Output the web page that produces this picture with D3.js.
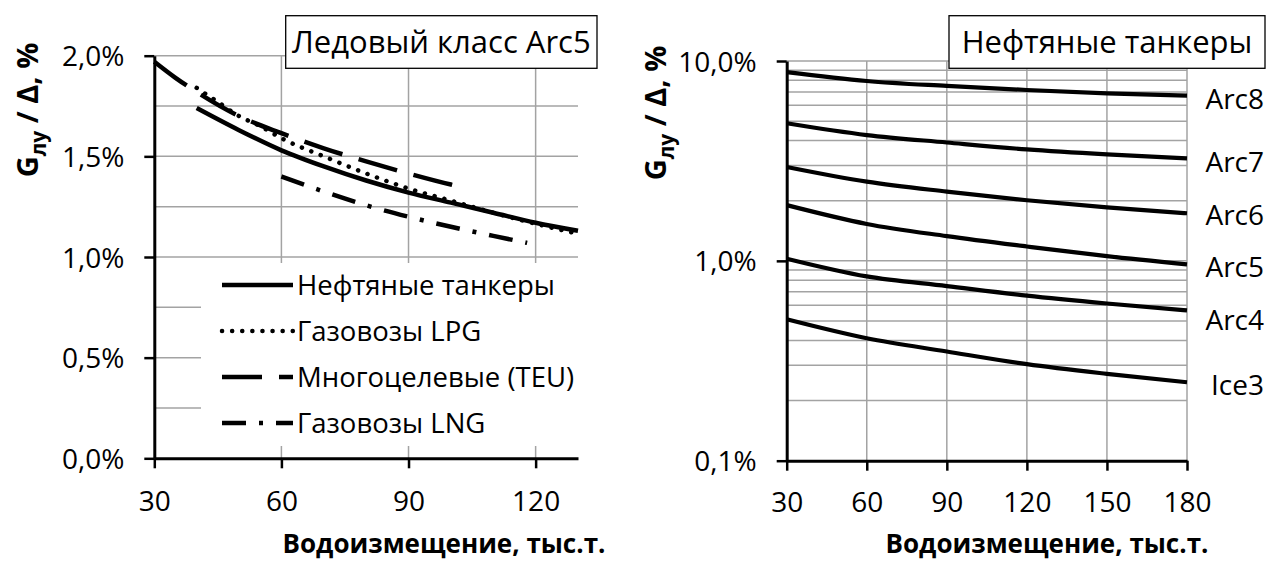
<!DOCTYPE html>
<html><head><meta charset="utf-8">
<script src="https://cdn.jsdelivr.net/npm/d3@7"></script>
<style>
body{margin:0;background:#fff}
svg{display:block}
text{font-family:"Open Sans",sans-serif;fill:#000}
</style>
</head><body>
<svg id="c" width="1267" height="561"></svg>
<script>
// ---------- data: left chart ----------
const leftTitle = "Ледовый класс Arc5";
const leftXTicks = [30, 60, 90, 120];
const leftYTicks = [0, 0.5, 1.0, 1.5, 2.0];
const leftYTickLabels = ["0,0%", "0,5%", "1,0%", "1,5%", "2,0%"];
const leftGridY = [0.25, 0.5, 0.75, 1.0, 1.25, 1.5, 1.75, 2.0];
const leftSeriesNames = ["Нефтяные танкеры", "Газовозы LPG", "Многоцелевые (TEU)", "Газовозы LNG"];
const tankerX = [40, 50, 60, 70, 80, 90, 100, 110, 120, 130];
const tankerY = [1.74, 1.63, 1.53, 1.45, 1.38, 1.32, 1.27, 1.22, 1.17, 1.13];
const lpgX = [40, 45, 50, 55, 60, 70, 80, 90, 100, 110, 120, 130];
const lpgY = [1.84, 1.77, 1.70, 1.65, 1.59, 1.50, 1.415, 1.34, 1.28, 1.22, 1.165, 1.115];
const teuX = [30, 35, 40, 50, 60, 70, 80, 90, 100, 102];
const teuY = [1.97, 1.89, 1.82, 1.70, 1.615, 1.54, 1.475, 1.415, 1.36, 1.35];
const lngX = [60, 70, 80, 90, 100, 110, 118];
const lngY = [1.40, 1.325, 1.257, 1.20, 1.15, 1.105, 1.07];

// ---------- data: right chart ----------
const rightTitle = "Нефтяные танкеры";
const rightX = [30, 60, 90, 120, 150, 180];
const rightXTicks = [30, 60, 90, 120, 150, 180];
const rightYTicks = [0.1, 1, 10];
const rightYTickLabels = ["0,1%", "1,0%", "10,0%"];
const iceClasses = ["Arc8", "Arc7", "Arc6", "Arc5", "Arc4", "Ice3"];
const arc8 = [8.80, 7.94, 7.50, 7.16, 6.89, 6.71];
const arc7 = [4.88, 4.26, 3.91, 3.61, 3.41, 3.26];
const arc6 = [2.95, 2.49, 2.22, 2.01, 1.85, 1.73];
const arc5 = [1.90, 1.53, 1.33, 1.18, 1.055, 0.96];
const arc4 = [1.025, 0.836, 0.748, 0.670, 0.612, 0.565];
const ice3 = [0.51, 0.410, 0.352, 0.304, 0.272, 0.247];

const xAxisTitle = "Водоизмещение, тыс.т.";
const yAxisMain = "G", yAxisSub = "лу", yAxisRest = " / Δ, %";

// ---------- drawing ----------
const svg = d3.select("#c");
const GRID = "#a3a3a3";
const TICK_FS = "28px";

function yTitle(x, y) {
  const t = svg.append("text")
    .attr("transform", `translate(${x},${y}) rotate(-90)`)
    .attr("text-anchor", "middle")
    .style("font-weight", "bold").style("font-size", "29px");
  t.append("tspan").text(yAxisMain);
  t.append("tspan").attr("dy", 8).style("font-size", "21px").text(yAxisSub);
  t.append("tspan").attr("dy", -8).text(yAxisRest);
}
function titleBox(x0, x1, y0, y1, txt) {
  svg.append("rect").attr("x", x0).attr("y", y0).attr("width", x1 - x0).attr("height", y1 - y0)
    .attr("fill", "#fff").attr("stroke", "#000").attr("stroke-width", 1.3);
  svg.append("text").attr("x", (x0 + x1) / 2).attr("y", (y0 + y1) / 2).attr("dy", "0.36em")
    .attr("text-anchor", "middle").style("font-size", "31px").text(txt);
}
function styleAxis(g) {
  g.select(".domain").attr("stroke", "#000").attr("stroke-width", 3);
  g.selectAll(".tick line").attr("stroke", "#000").attr("stroke-width", 2.5);
  g.selectAll(".tick text").style("font-size", TICK_FS).style("font-family", "'Open Sans',sans-serif");
}

// ===== LEFT =====
const xL = d3.scaleLinear().domain([30, 130]).range([154.3, 578]);
const yL = d3.scaleLinear().domain([0, 2]).range([458.3, 55.7]);

svg.append("g").selectAll("line").data(leftGridY).join("line")
  .attr("x1", xL(30)).attr("x2", xL(130)).attr("y1", d => yL(d)).attr("y2", d => yL(d))
  .attr("stroke", GRID).attr("stroke-width", 1.5);
svg.append("g").selectAll("line").data(leftXTicks.slice(1)).join("line")
  .attr("x1", d => xL(d)).attr("x2", d => xL(d)).attr("y1", yL(2)).attr("y2", yL(0))
  .attr("stroke", GRID).attr("stroke-width", 1.5);

titleBox(285.7, 597, 15.7, 68.3, leftTitle);

// legend background
svg.append("rect").attr("x", 201).attr("y", 263).attr("width", 400).attr("height", 183).attr("fill", "#fff");

const leftSeries = [
  {name: leftSeriesNames[0], xs: tankerX, ys: tankerY, dash: null, cap: "butt"},
  {name: leftSeriesNames[1], xs: lpgX, ys: lpgY, dash: "0.1 10", cap: "round"},
  {name: leftSeriesNames[2], xs: teuX, ys: teuY, dash: "40 17", cap: "butt"},
  {name: leftSeriesNames[3], xs: lngX, ys: lngY, dash: "24 13 4 13", cap: "butt"}
];
const lineL = d3.line().x(d => xL(d[0])).y(d => yL(d[1])).curve(d3.curveMonotoneX);
leftSeries.forEach(s => {
  svg.append("path").datum(s.xs.map((x, i) => [x, s.ys[i]]))
    .attr("d", lineL).attr("fill", "none").attr("stroke", "#000").attr("stroke-width", 4.5)
    .attr("stroke-dasharray", s.dash).attr("stroke-linecap", s.cap);
});

// legend
const legY = d3.scalePoint().domain(leftSeriesNames).range([285, 423]);
leftSeries.forEach(s => {
  const y = legY(s.name);
  svg.append("line").attr("x1", 222).attr("x2", 293).attr("y1", y).attr("y2", y)
    .attr("stroke", "#000").attr("stroke-width", 4.5)
    .attr("stroke-dasharray", s.dash).attr("stroke-linecap", s.cap);
  svg.append("text").attr("x", 297).attr("y", y).attr("dy", "0.36em").style("font-size", "27.5px").text(s.name);
});

const axLX = svg.append("g").attr("transform", `translate(0,${yL(0)})`)
  .call(d3.axisBottom(xL).tickValues(leftXTicks).tickSize(10).tickPadding(23).tickSizeOuter(0));
styleAxis(axLX);
const axLY = svg.append("g").attr("transform", `translate(${xL(30)},0)`)
  .call(d3.axisLeft(yL).tickValues(leftYTicks).tickSize(10).tickPadding(20).tickSizeOuter(0)
    .tickFormat((d, i) => leftYTickLabels[i]));
styleAxis(axLY);
axLY.selectAll(".tick text").attr("dy", "0.36em");

yTitle(38, 110);
svg.append("text").attr("x", 444).attr("y", 553).attr("text-anchor", "middle")
  .style("font-weight", "bold").style("font-size", "26px").text(xAxisTitle);

// ===== RIGHT =====
const xR = d3.scaleLinear().domain([30, 180]).range([786.7, 1187]);
const yR = d3.scaleLog().domain([0.1, 10]).range([460.7, 61]);

const rGridY = [];
[0.1, 1].forEach(dec => { for (let m = 2; m <= 10; m++) rGridY.push(dec * m); });
svg.append("g").selectAll("line").data(rGridY).join("line")
  .attr("x1", xR(30)).attr("x2", xR(180)).attr("y1", d => yR(d)).attr("y2", d => yR(d))
  .attr("stroke", GRID).attr("stroke-width", 1.5);
svg.append("g").selectAll("line").data(rightXTicks.slice(1)).join("line")
  .attr("x1", d => xR(d)).attr("x2", d => xR(d)).attr("y1", yR(10)).attr("y2", yR(0.1))
  .attr("stroke", GRID).attr("stroke-width", 1.5);

titleBox(949, 1265, 15.7, 68.3, rightTitle);

const rightSeries = [arc8, arc7, arc6, arc5, arc4, ice3];
const labelDy = [3, 4, 2, 3, 10, 3];
const lineR = d3.line().x(d => xR(d[0])).y(d => yR(d[1])).curve(d3.curveMonotoneX);
rightSeries.forEach((vals, k) => {
  svg.append("path").datum(rightX.map((x, i) => [x, vals[i]]))
    .attr("d", lineR).attr("fill", "none").attr("stroke", "#000").attr("stroke-width", 4.2);
  svg.append("text").attr("x", 1264).attr("y", yR(vals[vals.length - 1]) + labelDy[k])
    .attr("dy", "0.36em").attr("text-anchor", "end").style("font-size", "28px").text(iceClasses[k]);
});

const axRX = svg.append("g").attr("transform", `translate(0,${yR(0.1)})`)
  .call(d3.axisBottom(xR).tickValues(rightXTicks).tickSize(10).tickPadding(21).tickSizeOuter(0));
styleAxis(axRX);
const axRY = svg.append("g").attr("transform", `translate(${xR(30)},0)`)
  .call(d3.axisLeft(yR).tickValues(rightYTicks).tickSize(10).tickPadding(20).tickSizeOuter(0)
    .tickFormat((d, i) => rightYTickLabels[i]));
styleAxis(axRY);
axRY.selectAll(".tick text").attr("dy", "0.36em");

yTitle(666, 113);
svg.append("text").attr("x", 1047).attr("y", 553).attr("text-anchor", "middle")
  .style("font-weight", "bold").style("font-size", "26px").text(xAxisTitle);
</script>
</body></html>
